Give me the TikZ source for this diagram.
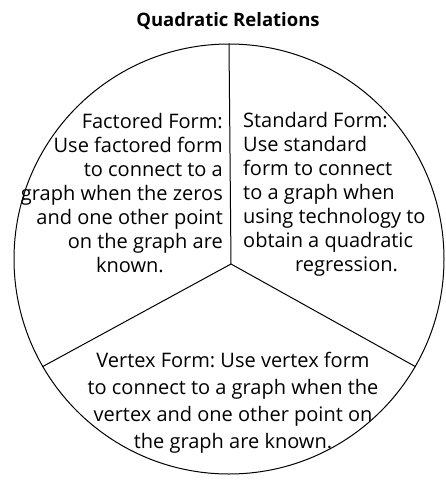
\documentclass[tikz,border=0pt]{standalone}
\usepackage{fontspec}
\setmainfont{Open Sans}
\usetikzlibrary{positioning}

\tikzset{
  wheel/.style={draw=black, line width=1pt},
  blurb/.style={font=\fontsize{20}{24}\selectfont\frenchspacing, inner sep=0pt}
}

\begin{document}
\begin{tikzpicture}[x=1pt,y=-1pt]
    \useasboundingbox (0,0) rectangle (445,482);

    \node[font=\fontsize{18.5}{20}\selectfont\bfseries] (title) at (228,21) {Quadratic Relations};

    \node[wheel, circle, minimum size=430pt, inner sep=0pt] (rim) at (229,259) {};
    \coordinate (hub) at (231,264);

    \foreach \ang in {90,210,330} {
      \draw[wheel] (hub) -- (rim.\ang);
    }

    \node[blurb, align=right, anchor=north east] (factored) at (223,113) {Factored Form:\\
      Use factored form\\
      to connect to a\\
      graph when the zeros\\
      and one other point\\
      on the graph are\\
      known.\hspace*{59pt}};

    \node[blurb, align=left, anchor=north west] (standard) at (243,112) {Standard Form:\\
      Use standard\\
      form to connect\\
      to a graph when\\
      using technology to\\
      obtain a quadratic\\
      \hspace*{52pt}regression.};

    \node[blurb, align=center, anchor=north, font=\fontsize{20}{27}\selectfont\frenchspacing] (vertex) at (233,352) {Vertex Form: Use vertex form\\
      to connect to a graph when the\\
      vertex and one other point on\\
      the graph are known.};
\end{tikzpicture}
\end{document}
